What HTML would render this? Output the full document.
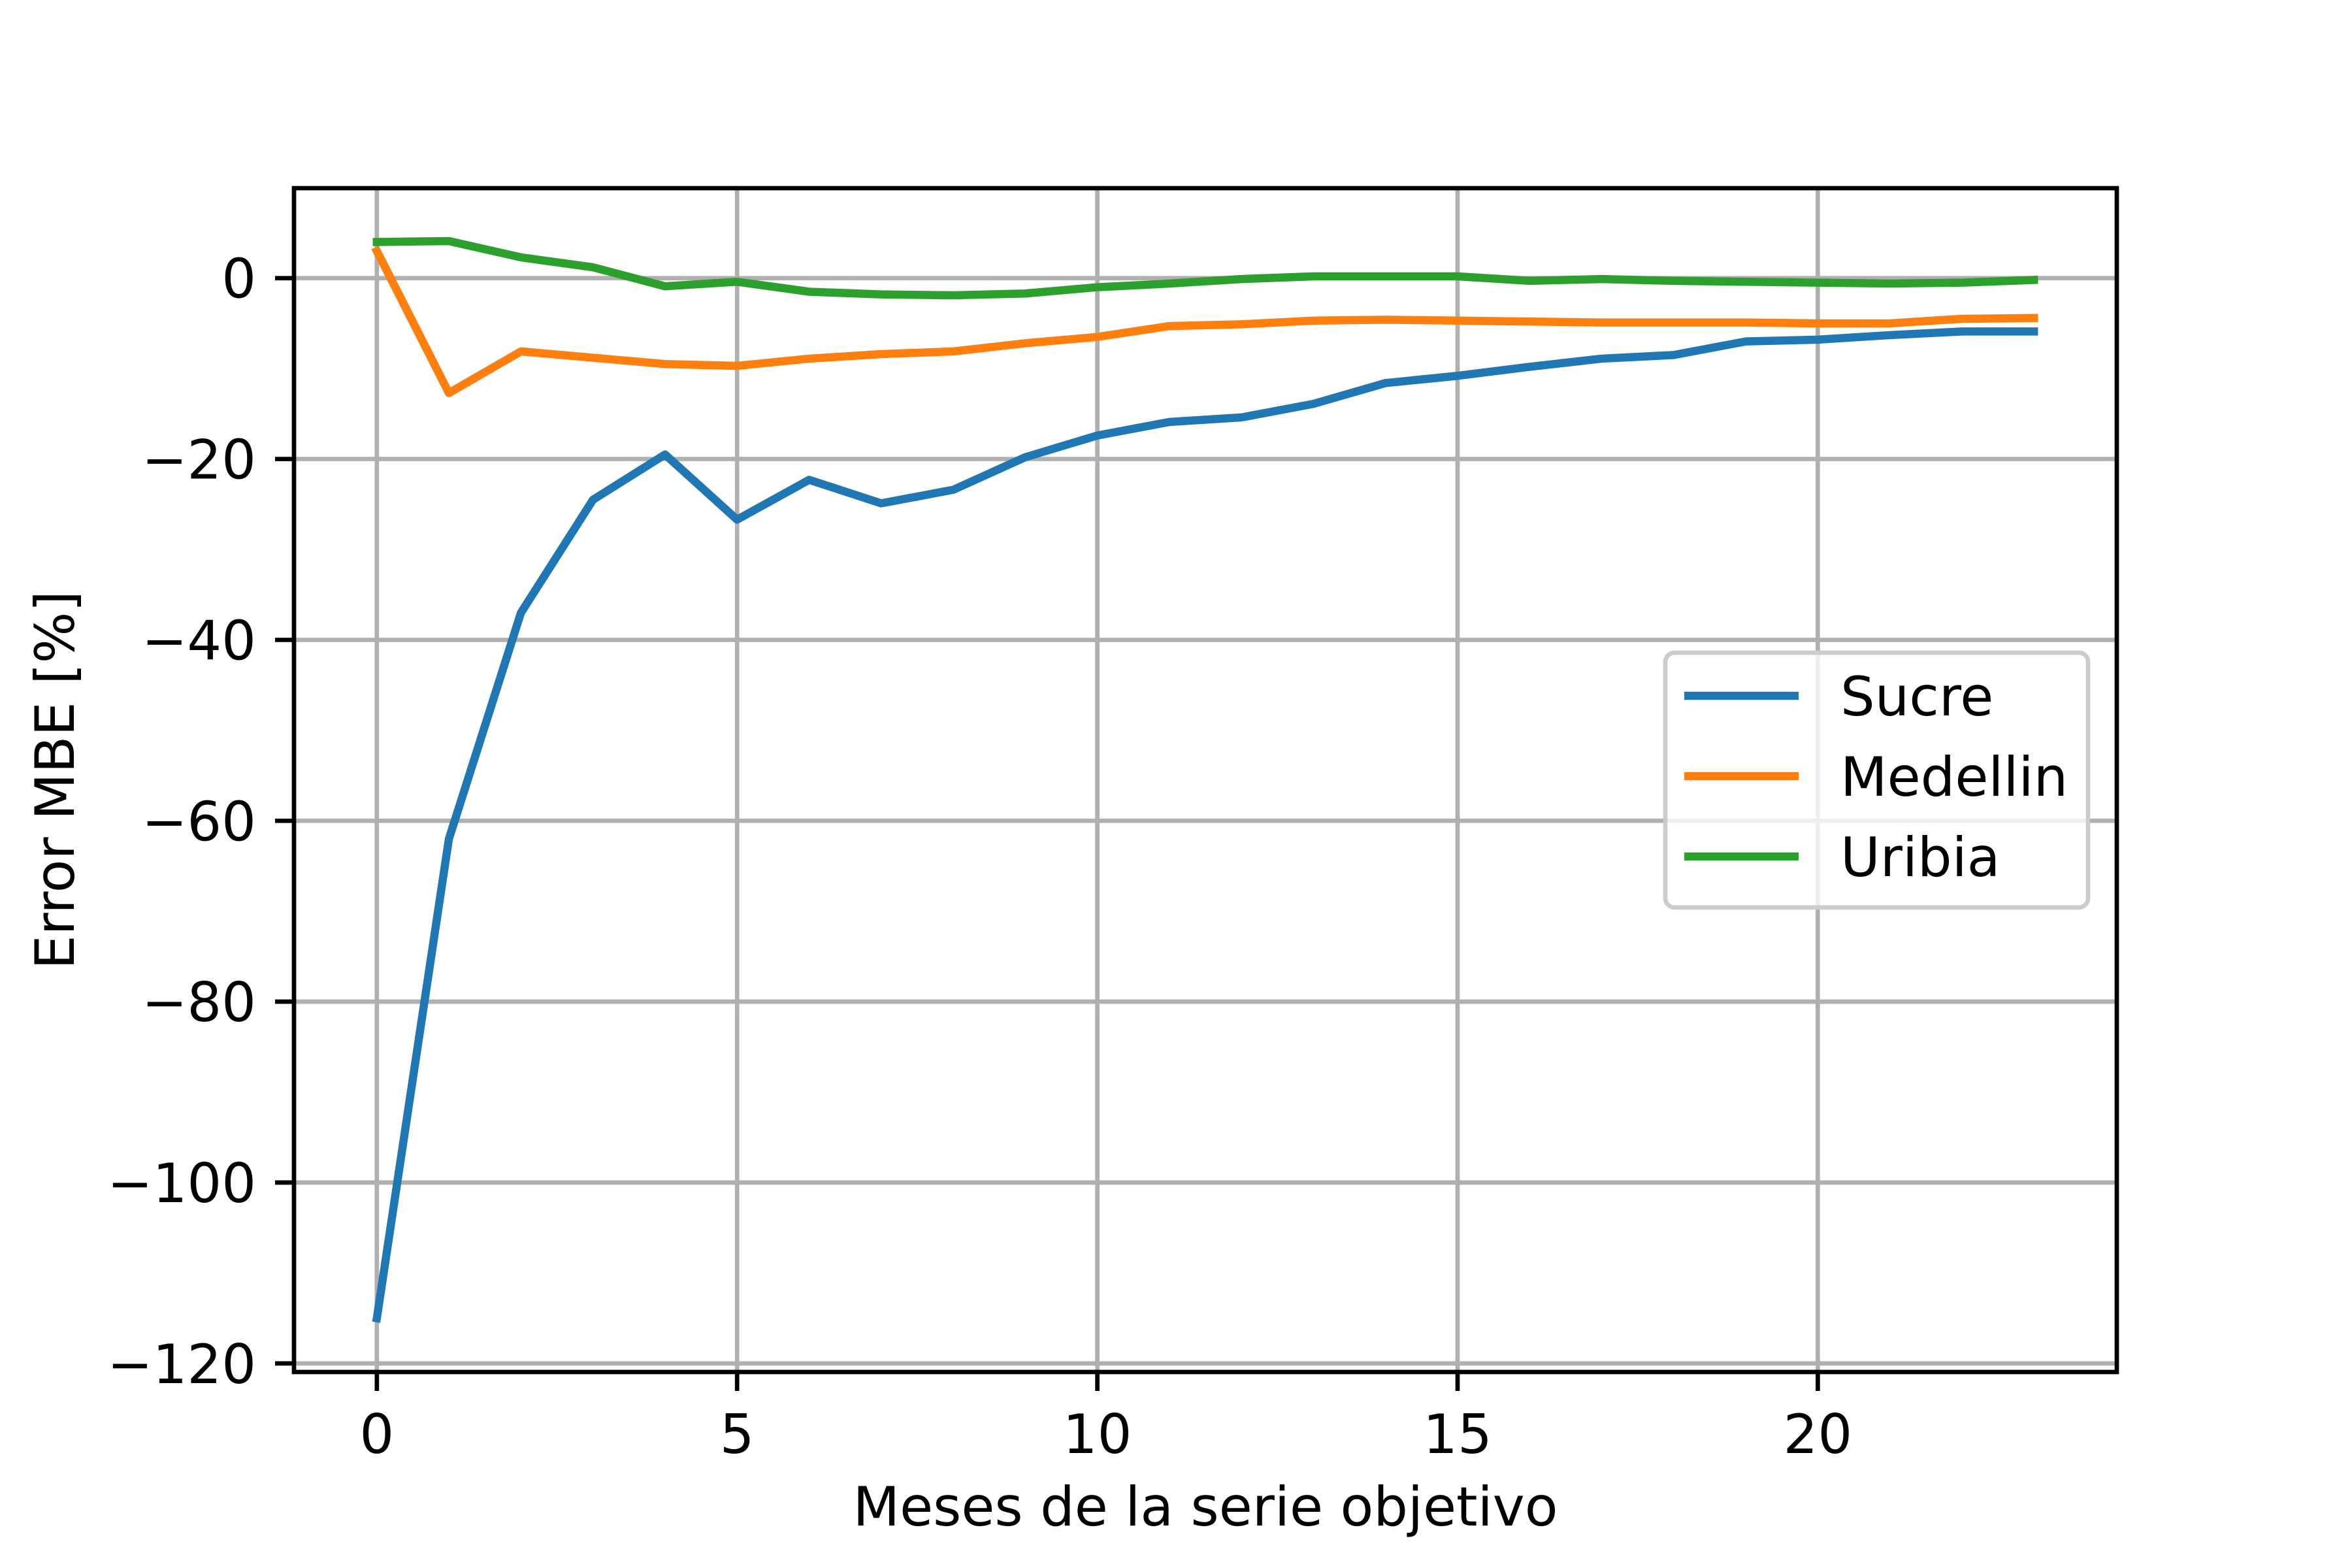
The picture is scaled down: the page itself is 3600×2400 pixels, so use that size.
<!DOCTYPE html>
<html><head><meta charset="utf-8"><style>html,body{margin:0;padding:0;background:#fff}svg{display:block}</style></head>
<body>
<svg id="chart" width="3600" height="2400" xmlns="http://www.w3.org/2000/svg" font-family="'DejaVu Sans', 'Liberation Sans', sans-serif">
<rect width="3600" height="2400" fill="#fff"/>
<g id="grid"></g>
<g id="series"></g>
<rect x="450" y="288" width="2790" height="1812" fill="none" stroke="#000" stroke-width="6.7"/>
<g id="ticks"></g>
<text x="1845" y="2335" font-size="83" text-anchor="middle">Meses de la serie objetivo</text>
<text transform="translate(113,1194) rotate(-90)" font-size="83" text-anchor="middle">Error MBE [%]</text>
<g id="legend"></g>
</svg>
<script>
const months = [0,1,2,3,4,5,6,7,8,9,10,11,12,13,14,15,16,17,18,19,20,21,22,23];
const sucre = [-115,-62,-37,-24.5,-19.5,-26.7,-22.3,-24.9,-23.4,-19.8,-17.4,-15.9,-15.4,-13.9,-11.6,-10.8,-9.8,-8.9,-8.5,-7.0,-6.8,-6.3,-5.9,-5.9];
const medellin = [3,-12.7,-8.1,-8.8,-9.5,-9.7,-8.9,-8.4,-8.1,-7.2,-6.5,-5.3,-5.1,-4.7,-4.6,-4.7,-4.8,-4.9,-4.9,-4.9,-5.0,-5.0,-4.5,-4.4];
const uribia = [4,4.1,2.3,1.2,-0.9,-0.4,-1.5,-1.8,-1.9,-1.7,-1.0,-0.6,-0.1,0.2,0.2,0.2,-0.3,-0.1,-0.3,-0.4,-0.5,-0.6,-0.5,-0.2];
const seriesNames = ["Sucre","Medellin","Uribia"];
const seriesColors = ["#1f77b4","#ff7f0e","#2ca02c"];
const xTicks = [0,5,10,15,20];
const yTicks = [0,-20,-40,-60,-80,-100,-120];
const yTickLabels = ["0","\u221220","\u221240","\u221260","\u221280","\u2212100","\u2212120"];

const NS="http://www.w3.org/2000/svg";
const L=450,R=3240,T=288,B=2100;
const xmin=-1.15,xmax=24.15,ymin=-120.95,ymax=9.95;
const sx=v=>L+(v-xmin)/(xmax-xmin)*(R-L);
const sy=v=>B-(v-ymin)/(ymax-ymin)*(B-T);
function mk(tag,attrs,parent){const e=document.createElementNS(NS,tag);for(const k in attrs)e.setAttribute(k,attrs[k]);parent.appendChild(e);return e;}
const grid=document.getElementById('grid'),ticks=document.getElementById('ticks');
xTicks.forEach(t=>{
  const g=mk('line',{x1:sx(t),x2:sx(t),y1:T,y2:B,stroke:'#b0b0b0','stroke-width':6.7},grid);
  
  
  const tk=mk('line',{x1:sx(t),x2:sx(t),y1:B,y2:B+29,stroke:'#000','stroke-width':6.7},ticks);
  
  
  const tx=mk('text',{x:sx(t),y:B+124,'font-size':83,'text-anchor':'middle'},ticks);
  tx.textContent=String(t);
  
  
});
yTicks.forEach((t,i)=>{
  const g=mk('line',{x1:L,x2:R,y1:sy(t),y2:sy(t),stroke:'#b0b0b0','stroke-width':6.7},grid);
  
  
  const tk=mk('line',{x1:L-29,x2:L,y1:sy(t),y2:sy(t),stroke:'#000','stroke-width':6.7},ticks);
  
  
  const tx=mk('text',{x:L-58,y:sy(t)+30,'font-size':83,'text-anchor':'end'},ticks);
  tx.textContent=yTickLabels[i];
  
  
});
const sg=document.getElementById('series');
[sucre,medellin,uribia].forEach((arr,k)=>{
  const pts=arr.map((v,i)=>sx(months[i])+','+sy(v)).join(' ');
  const p=mk('polyline',{points:pts,fill:'none',stroke:seriesColors[k],'stroke-width':12.5,'stroke-linejoin':'round','stroke-linecap':'square'},sg);
  
  
});
const lg=document.getElementById('legend');
const box=mk('rect',{x:2549,y:999,width:647,height:390,rx:14,fill:'#fff','fill-opacity':0.8,stroke:'#cccccc','stroke-width':6.7},lg);


seriesNames.forEach((n,k)=>{
  const y=1065+k*123;
  const ln=mk('line',{x1:2578,x2:2753,y1:y,y2:y,stroke:seriesColors[k],'stroke-width':12.5},lg);
  
  
  const tx=mk('text',{x:2817,y:y+30,'font-size':83},lg);
  tx.textContent=n;
  
  
});
</script>
</body></html>
